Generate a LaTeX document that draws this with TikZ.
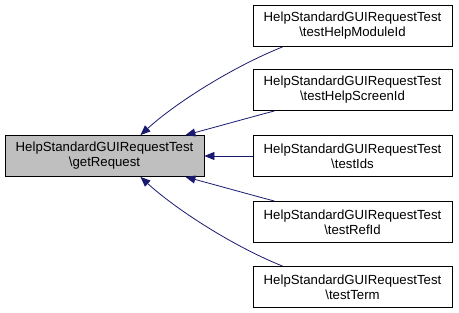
\documentclass[tikz,border=0pt]{standalone}
\usepackage{fontspec}
\setmainfont{Liberation Sans}
\usetikzlibrary{arrows.meta,calc}
\definecolor{edgeblue}{HTML}{191970}
\definecolor{nodegray}{HTML}{BFBFBF}
\tikzset{
  fn/.style={draw=black, line width=0.8pt, minimum width=199pt, minimum height=41pt, inner sep=0pt, align=center, font=\fontsize{13.2}{15}\selectfont},
  cur/.style={fn, fill=nodegray},
  edge/.style={draw=edgeblue, line width=0.8pt, -{Triangle[length=10pt,width=8pt]}}
}
\begin{document}
\begin{tikzpicture}[x=1pt,y=-1pt]
\useasboundingbox (0,0) rectangle (459,313);
\node[cur] (g) at (104.5,156) {HelpStandardGUIRequestTest\\\textbackslash getRequest};
\node[fn] (a) at (352.5,26) {HelpStandardGUIRequestTest\\\textbackslash testHelpModuleId};
\node[fn] (b) at (352.5,90) {HelpStandardGUIRequestTest\\\textbackslash testHelpScreenId};
\node[fn] (c) at (352.5,156) {HelpStandardGUIRequestTest\\\textbackslash testIds};
\node[fn] (d) at (352.5,222) {HelpStandardGUIRequestTest\\\textbackslash testRefId};
\node[fn] (e) at (352.5,287) {HelpStandardGUIRequestTest\\\textbackslash testTerm};
\draw[edge] ([xshift=30pt]a.south west) .. controls +(-50,20) and +(35,-32) .. ([xshift=-64pt]g.north east);
\draw[edge] ([xshift=22pt]b.south west) .. controls +(-30,8) and +(30,-8) .. ([xshift=-19pt]g.north east);
\draw[edge] (c.west) -- (g.east);
\draw[edge] ([xshift=22pt]d.north west) .. controls +(-30,-8) and +(30,8) .. ([xshift=-19pt]g.south east);
\draw[edge] ([xshift=30pt]e.north west) .. controls +(-50,-20) and +(35,32) .. ([xshift=-64pt]g.south east);
\end{tikzpicture}
\end{document}
